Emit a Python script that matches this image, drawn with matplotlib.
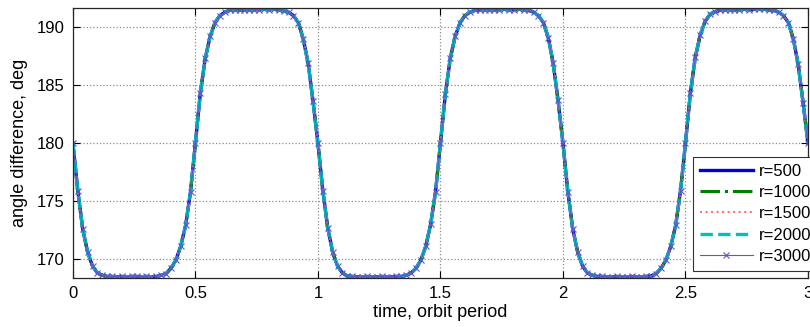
import numpy as np
import matplotlib.pyplot as plt

plt.rcParams['font.family'] = ['Liberation Sans', 'DejaVu Sans']

# time in orbit periods, sampled every 0.02
time = np.linspace(0, 3, 151)

# angle difference (deg)
angle = [
    # period 1
    180.0, 175.9, 172.6, 170.6, 169.4, 168.8, 168.6, 168.5, 168.5, 168.45,
    168.5, 168.45, 168.5, 168.5, 168.45, 168.5, 168.45, 168.5, 168.6, 168.75,
    169.2, 169.9, 171.1, 172.9, 175.8, 180.0, 184.3, 187.3, 189.2, 190.4,
    191.0, 191.3, 191.45, 191.5, 191.5, 191.45, 191.5, 191.5, 191.5, 191.55,
    191.5, 191.55, 191.5, 191.4, 191.3, 191.0, 190.4, 189.0, 186.9, 183.6,
    # period 2
    180.0, 175.9, 172.7, 170.6, 169.4, 168.8, 168.55, 168.5, 168.45, 168.45,
    168.5, 168.45, 168.45, 168.5, 168.45, 168.45, 168.5, 168.5, 168.6, 168.8,
    169.2, 169.9, 171.1, 173.0, 175.8, 180.0, 184.2, 187.3, 189.2, 190.4,
    191.0, 191.3, 191.45, 191.5, 191.5, 191.5, 191.5, 191.5, 191.55, 191.5,
    191.5, 191.55, 191.5, 191.45, 191.3, 191.0, 190.4, 189.1, 186.9, 183.7,
    # period 3
    180.0, 175.8, 172.6, 170.6, 169.4, 168.8, 168.6, 168.5, 168.5, 168.45,
    168.45, 168.5, 168.45, 168.45, 168.5, 168.45, 168.45, 168.5, 168.55, 168.75,
    169.2, 169.9, 171.1, 172.9, 175.9, 180.0, 184.3, 187.4, 189.3, 190.5,
    191.1, 191.35, 191.45, 191.5, 191.5, 191.5, 191.5, 191.55, 191.5, 191.55,
    191.6, 191.55, 191.5, 191.45, 191.3, 191.0, 190.4, 189.0, 186.8, 183.5,
    180.0,
]

labels = ['r=500', 'r=1000', 'r=1500', 'r=2000', 'r=3000']

fig = plt.figure(figsize=(8.1, 3.27), dpi=100)
ax = fig.add_axes([0.090, 0.151, 0.9075, 0.824])

ax.plot(time, angle, color=(0.0, 0.0, 0.85), lw=2.4, ls='-', label=labels[0])
ax.plot(time, angle, color=(0.0, 0.5, 0.0), lw=2.2, ls='-.', label=labels[1])
ax.plot(time, angle, color=(1.0, 0.45, 0.45), lw=1.5, ls=':', label=labels[2])
ax.plot(time, angle, color=(0.0, 0.75, 0.75), lw=2.4, ls='--', label=labels[3])
ax.plot(time, angle, color=(0.35, 0.35, 0.8), lw=0.8, ls='-', marker='x',
        ms=5, mew=0.8, label=labels[4])

ax.set_xlim(0, 3)
ax.set_ylim(168.4, 191.64)
ax.set_xticks([0, 0.5, 1, 1.5, 2, 2.5, 3])
ax.set_xticklabels(['0', '0.5', '1', '1.5', '2', '2.5', '3'])
ax.set_yticks([170, 175, 180, 185, 190])
ax.tick_params(direction='in', top=True, right=True, labelsize=12, length=5, pad=6)
ax.grid(True, ls=':', color='0.55', lw=0.9)
for s in ax.spines.values():
    s.set_linewidth(0.9)
    s.set_color('0.15')

ax.set_xlabel('time, orbit period', fontsize=13, labelpad=2)
ax.set_ylabel('angle difference, deg', fontsize=13, labelpad=6)

leg = ax.legend(loc='upper left', bbox_to_anchor=(693 / 810, 1 - 157 / 327),
                bbox_transform=fig.transFigure, borderaxespad=0, fancybox=False,
                framealpha=1, edgecolor='0.2', fontsize=12, handlelength=3.2,
                labelspacing=0.38, handletextpad=0.35)
leg.get_frame().set_linewidth(0.8)

fig.savefig('out.png', dpi=100)
